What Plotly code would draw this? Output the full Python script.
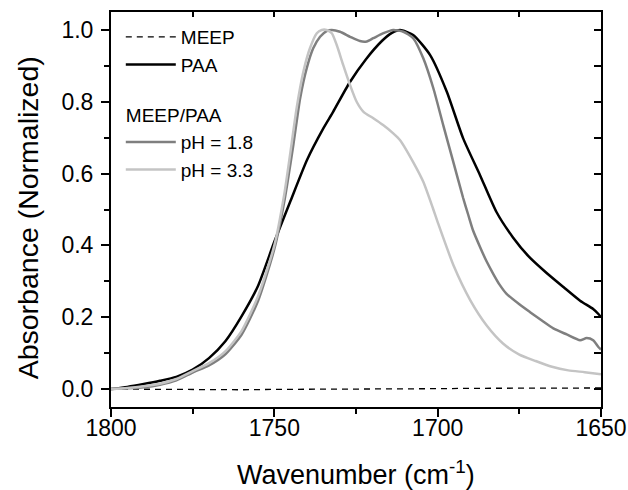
import plotly.graph_objects as go

# ---------------- data ----------------
meep_wn = [1800, 1790, 1780, 1770, 1760, 1750, 1740, 1730, 1720, 1710, 1700, 1690, 1680, 1670, 1660, 1650]
meep_abs = [0.0, -0.001, -0.002, -0.002, -0.002, -0.001, -0.001, 0.0, 0.0, 0.001, 0.001, 0.002, 0.002, 0.003, 0.003, 0.003]

paa_wn = [1800, 1795, 1790, 1785, 1780, 1775, 1770, 1765, 1760, 1755, 1750, 1745, 1740, 1735, 1732,
          1727, 1722, 1717, 1714, 1711.5, 1707.5, 1702.3, 1697.2, 1692.2, 1687, 1682, 1677, 1672,
          1667, 1661.5, 1656.4, 1652.4, 1650.8, 1650]
paa_abs = [0.0, 0.006, 0.014, 0.023, 0.034, 0.054, 0.086, 0.133, 0.203, 0.287, 0.41, 0.525, 0.638,
           0.726, 0.772, 0.853, 0.918, 0.97, 0.992, 1.0, 0.986, 0.93, 0.828, 0.698, 0.595, 0.493,
           0.423, 0.368, 0.326, 0.284, 0.246, 0.223, 0.209, 0.2]

ph18_wn = [1800, 1795, 1790, 1785, 1780, 1775, 1770, 1765, 1760, 1755, 1750, 1747, 1744.2, 1742.1,
           1740.1, 1738.1, 1736, 1734, 1732.4, 1729.9, 1726.8, 1723.8, 1721.7, 1719.7, 1716.6,
           1713.6, 1710.5, 1707.5, 1704.4, 1701.3, 1698.3, 1695.2, 1692.2, 1690.6, 1689.1, 1687,
           1685, 1683, 1681, 1678.9, 1675, 1671.7, 1668, 1664.6, 1660.5, 1656.4, 1654.4, 1652.4,
           1650.8, 1650]
ph18_abs = [0.0, 0.002, 0.005, 0.012, 0.024, 0.046, 0.066, 0.097, 0.152, 0.245, 0.39, 0.52, 0.679,
            0.81, 0.893, 0.949, 0.981, 0.997, 1.0, 0.995, 0.981, 0.969, 0.968, 0.977, 0.991, 1.0,
            0.995, 0.977, 0.921, 0.837, 0.735, 0.632, 0.532, 0.484, 0.44, 0.395, 0.355, 0.321,
            0.29, 0.265, 0.236, 0.214, 0.19, 0.169, 0.152, 0.136, 0.142, 0.136, 0.117, 0.11]

ph33_wn = [1800, 1795, 1790, 1785, 1780, 1775, 1770, 1765, 1760, 1755, 1750, 1747, 1744.7, 1743.2,
           1741.1, 1739.1, 1737, 1735.5, 1734, 1732.4, 1730.9, 1728.9, 1726.8, 1724.8, 1722.7,
           1719.7, 1716.7, 1713.6, 1711.5, 1707.5, 1704.4, 1701.4, 1700, 1695, 1690, 1685, 1680,
           1675, 1670, 1665, 1660, 1655, 1650]
ph33_abs = [0.0, 0.003, 0.008, 0.015, 0.028, 0.05, 0.072, 0.105, 0.162, 0.258, 0.40, 0.54, 0.684,
            0.781, 0.884, 0.949, 0.991, 1.0, 1.0, 0.991, 0.958, 0.902, 0.846, 0.80, 0.772, 0.754,
            0.735, 0.712, 0.693, 0.632, 0.577, 0.502, 0.465, 0.341, 0.247, 0.177, 0.127, 0.096,
            0.078, 0.062, 0.052, 0.047, 0.041]

x_range = [1800, 1650]
y_range = [-0.05, 1.05]

FONT = "Arial, Liberation Sans, sans-serif"

fig = go.Figure()
fig.add_trace(go.Scatter(x=meep_wn, y=meep_abs, mode="lines", name="MEEP", legendgroup="single",
                         line=dict(color="black", width=1.3, dash="6px,5px")))
fig.add_trace(go.Scatter(x=paa_wn, y=paa_abs, mode="lines", name="PAA", legendgroup="single",
                         line=dict(color="black", width=2.5, shape="spline", smoothing=0.6)))
fig.add_trace(go.Scatter(x=ph18_wn, y=ph18_abs, mode="lines", name="pH = 1.8", legendgroup="mix",
                         legendgrouptitle=dict(text="MEEP/PAA", font=dict(size=19, color="black")),
                         line=dict(color="#7f7f7f", width=2.5, shape="spline", smoothing=0.6)))
fig.add_trace(go.Scatter(x=ph33_wn, y=ph33_abs, mode="lines", name="pH = 3.3", legendgroup="mix",
                         line=dict(color="#c4c4c4", width=2.5, shape="spline", smoothing=0.6)))
# trace hosting the mirror axes (top/right, inward ticks); it draws nothing
fig.add_trace(go.Scatter(x=[1800, 1650], y=[0, 0], xaxis="x2", yaxis="y2", mode="lines",
                         line=dict(width=0, color="rgba(0,0,0,0)"), showlegend=False,
                         hoverinfo="skip"))

axis_common = dict(showgrid=False, zeroline=False, showline=True, linecolor="black",
                   linewidth=2, tickcolor="black", tickwidth=1.5, automargin=False)

fig.update_layout(
    template="none",
    width=628, height=490,
    margin=dict(l=111, r=27, t=12, b=83, pad=0),
    paper_bgcolor="white", plot_bgcolor="white",
    font=dict(family=FONT, color="black"),
    showlegend=True,
    legend=dict(x=0.02, xanchor="left", y=0.985, yanchor="top", traceorder="grouped",
                tracegroupgap=22, bgcolor="rgba(0,0,0,0)", font=dict(size=19, color="black"),
                itemwidth=50),
    xaxis=dict(range=x_range, tick0=1650, dtick=50, ticks="outside", ticklen=8,
               tickfont=dict(size=23), ticklabelstandoff=-9, mirror=True,
               minor=dict(dtick=25, ticks="outside", ticklen=5, tickcolor="black", tickwidth=1.5),
               **axis_common),
    yaxis=dict(range=y_range, tick0=0, dtick=0.2, ticks="outside", ticklen=8,
               tickformat=".1f", tickfont=dict(size=23), ticklabelstandoff=3, mirror=True,
               minor=dict(dtick=0.1, ticks="outside", ticklen=5, tickcolor="black", tickwidth=1.5),
               **axis_common),
    xaxis2=dict(range=x_range, overlaying="x", side="top", anchor="y", tick0=1650, dtick=25,
                ticks="inside", ticklen=5, showticklabels=False, **axis_common),
    yaxis2=dict(range=y_range, overlaying="y", side="right", anchor="x", tick0=0, dtick=0.1,
                ticks="inside", ticklen=7, showticklabels=False, **axis_common),
    annotations=[
        dict(text="Wavenumber (cm<sup>-1</sup>)", xref="paper", yref="paper", x=0.5, y=-0.168,
             xanchor="center", yanchor="middle", showarrow=False, font=dict(size=27)),
        dict(text="Absorbance (Normalized)", xref="paper", yref="paper", x=-0.1695, y=0.48,
             xanchor="center", yanchor="middle", textangle=-90, showarrow=False,
             font=dict(size=28.5)),
    ],
)

fig.write_html("out.html")
